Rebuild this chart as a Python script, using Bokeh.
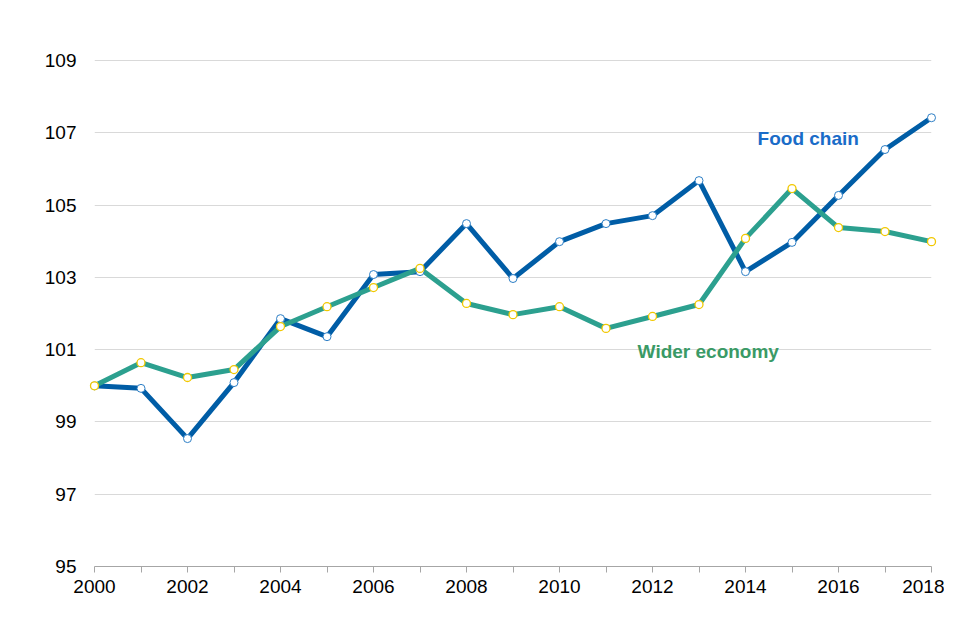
from bokeh.plotting import figure
from bokeh.models import FixedTicker, ColumnDataSource, Label
from bokeh.embed import file_html
from bokeh.resources import INLINE

years = list(range(2000, 2019))
food_chain = [100.0, 99.93, 98.54, 100.09, 101.86, 101.36, 103.08, 103.16, 104.49, 102.97,
              103.99, 104.49, 104.71, 105.68, 103.16, 103.97, 105.27, 106.54, 107.42]
wider_economy = [100.0, 100.64, 100.23, 100.45, 101.64, 102.19, 102.72, 103.25, 102.28, 101.97,
                 102.19, 101.59, 101.92, 102.25, 104.08, 105.46, 104.38, 104.27, 103.99]
y_ticks = [95, 97, 99, 101, 103, 105, 107, 109]
x_ticks = years

src = ColumnDataSource(dict(year=years, food=food_chain, wider=wider_economy))

p = figure(width=944, height=624, output_backend="svg", toolbar_location=None,
           x_range=(2000, 2018), y_range=(95, 110),
           min_border_left=94, min_border_right=13, min_border_top=24, min_border_bottom=58)
p.outline_line_color = None
p.background_fill_color = "white"
p.border_fill_color = "white"

p.xgrid.grid_line_color = None
p.ygrid.grid_line_color = "#D9D9D9"
p.ygrid.grid_line_width = 1

p.yaxis.ticker = FixedTicker(ticks=y_ticks)
p.yaxis.axis_line_color = None
p.yaxis.major_tick_line_color = None
p.yaxis.minor_tick_line_color = None
p.yaxis.major_label_text_font = "Liberation Sans"
p.yaxis.major_label_text_font_size = "19px"
p.yaxis.major_label_text_color = "#000000"
p.yaxis.major_label_standoff = 12

p.xaxis.ticker = FixedTicker(ticks=x_ticks)
p.xaxis.major_label_overrides = {y: (str(y) if y % 2 == 0 else "") for y in years}
p.xaxis.axis_line_color = "#A6A6A6"
p.xaxis.major_tick_line_color = "#A6A6A6"
p.xaxis.major_tick_in = 0
p.xaxis.major_tick_out = 6
p.xaxis.minor_tick_line_color = None
p.xaxis.major_label_text_font = "Liberation Sans"
p.xaxis.major_label_text_font_size = "19px"
p.xaxis.major_label_text_color = "#000000"
p.xaxis.major_label_standoff = 7

blue = "#005DA6"
teal = "#2CA08F"

l1 = p.line("year", "food", source=src, line_color=blue, line_width=5)
l2 = p.line("year", "wider", source=src, line_color=teal, line_width=5)
s1 = p.scatter("year", "food", source=src, size=8, fill_color="white", line_color="#2E7FC6", line_width=1)
s2 = p.scatter("year", "wider", source=src, size=8, fill_color="white", line_color="#F2C800", line_width=1.3)
for r in (l1, l2, s1, s2):
    r.level = "overlay"

p.add_layout(Label(x=2014.26, y=106.84, text="Food chain", text_font="Liberation Sans",
                   text_font_style="bold", text_font_size="19px", text_color="#1A6CC8",
                   text_baseline="middle", text_align="left"))
p.add_layout(Label(x=2011.68, y=100.95, text="Wider economy", text_font="Liberation Sans",
                   text_font_style="bold", text_font_size="19px", text_color="#3A9A66",
                   text_baseline="middle", text_align="left"))

open("out.html", "w").write(file_html(p, INLINE))
